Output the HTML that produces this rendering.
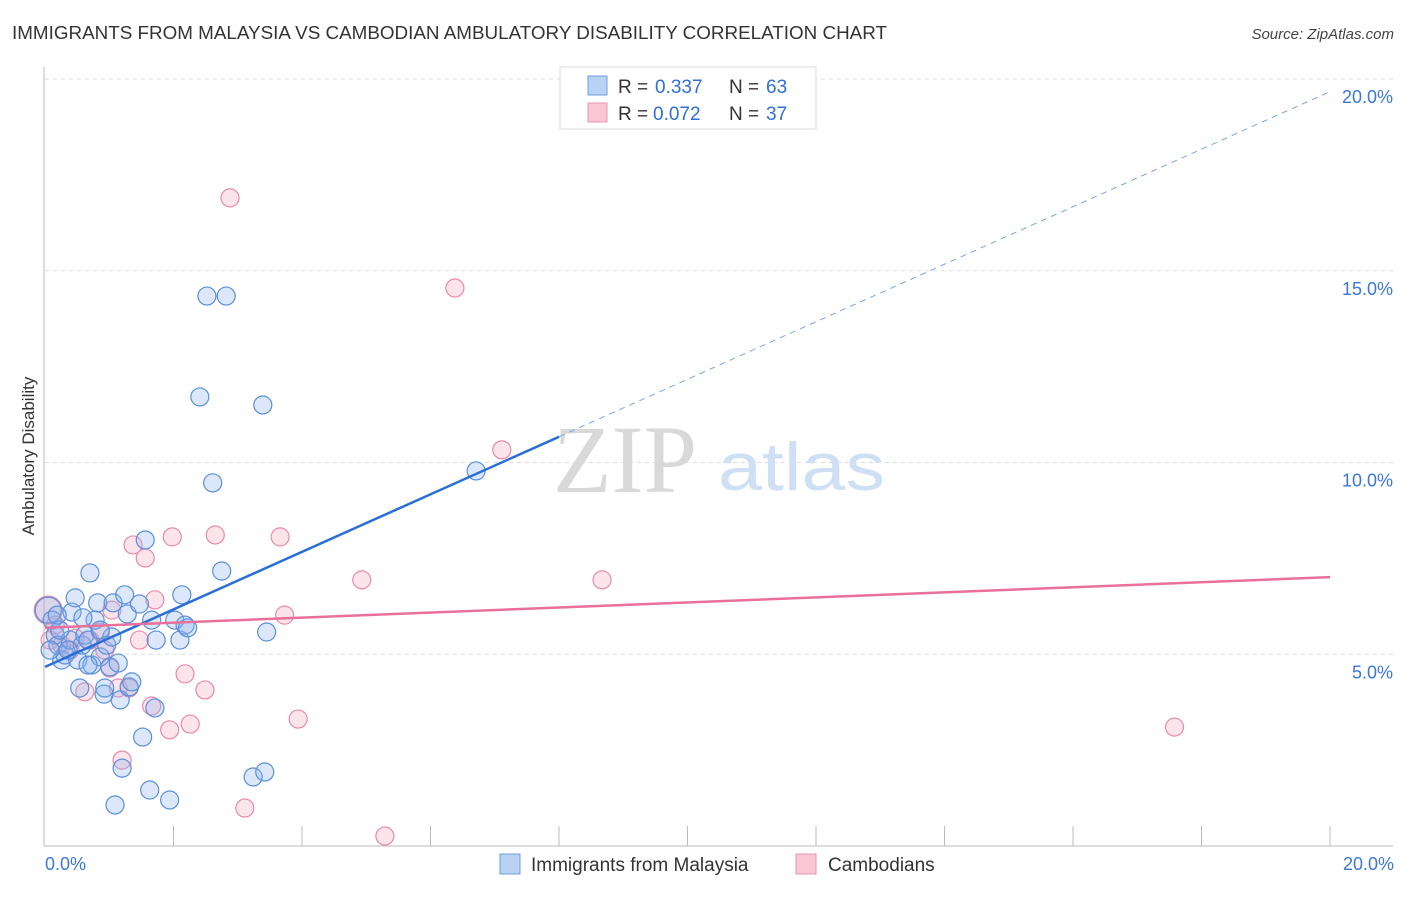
<!DOCTYPE html>
<html><head><meta charset="utf-8"><style>
body{margin:0;background:#fff;font-family:"Liberation Sans",sans-serif}
</style></head><body>
<svg width="1406" height="892" xmlns="http://www.w3.org/2000/svg" font-family="Liberation Sans, sans-serif">
<text x="12" y="39" font-size="18" fill="#333" textLength="875" lengthAdjust="spacingAndGlyphs">IMMIGRANTS FROM MALAYSIA VS CAMBODIAN AMBULATORY DISABILITY CORRELATION CHART</text>
<text x="1394" y="39" font-size="15" fill="#444" text-anchor="end" font-style="italic">Source: ZipAtlas.com</text>
<g id="grid"></g>
<text x="553" y="492" font-size="96" fill="#d9d9d9" font-family="Liberation Serif, serif">ZIP</text>
<text x="718" y="490" font-size="68" fill="#cfdff4" textLength="167" lengthAdjust="spacingAndGlyphs">atlas</text>
<g id="marks"></g>
<text transform="translate(34,456) rotate(-90)" font-size="17" fill="#333" text-anchor="middle">Ambulatory Disability</text>
<g>
<rect x="560" y="67" width="256" height="62" fill="#fff" stroke="#ddd"/>
<rect x="588" y="76" width="19" height="19" fill="#b9d1f3" stroke="#6e9fe0"/>
<rect x="588" y="103" width="19" height="19" fill="#f9c6d6" stroke="#ea95b2"/>
<text x="618" y="93" font-size="19" fill="#333">R =</text>
<text x="655" y="93" font-size="19" fill="#2f6fd6">0.337</text>
<text x="729" y="93" font-size="19" fill="#333">N =</text>
<text x="766" y="93" font-size="19" fill="#2f6fd6">63</text>
<text x="618" y="120" font-size="19" fill="#333">R =</text>
<text x="653" y="120" font-size="19" fill="#2f6fd6">0.072</text>
<text x="729" y="120" font-size="19" fill="#333">N =</text>
<text x="766" y="120" font-size="19" fill="#2f6fd6">37</text>
</g>
<g>
<rect x="500" y="854" width="20" height="20" fill="#b9d1f3" stroke="#6e9fe0"/>
<text x="531" y="871" font-size="19" fill="#333">Immigrants from Malaysia</text>
<rect x="796" y="854" width="20" height="20" fill="#f9c6d6" stroke="#ea95b2"/>
<text x="828" y="871" font-size="19" fill="#333">Cambodians</text>
</g>
</svg>
<script>
const yTicks=[5,10,15,20];
const yTickLabels=["5.0%","10.0%","15.0%","20.0%"];
const xTickLabels=["0.0%","20.0%"];
const blueX=[0.05,0.11,0.16,0.2,0.26,0.31,0.39,0.42,0.47,0.51,0.54,0.58,0.62,0.67,0.7,0.73,0.78,0.82,0.86,0.92,0.93,0.96,1.01,1.06,1.09,1.14,1.17,1.2,1.24,1.28,1.31,1.35,1.47,1.52,1.56,1.63,1.66,1.71,1.73,1.94,2.02,2.1,2.13,2.18,2.22,2.41,2.52,2.61,2.75,2.82,3.24,3.39,3.42,3.45,6.71,0.23,0.36,0.08,0.67,1.04,0.86,0.59,0.19];
const blueY=[6.15,5.89,5.5,5.24,4.85,4.98,5.37,6.1,6.47,4.85,4.12,5.24,5.5,5.37,7.12,4.72,5.89,6.34,4.93,3.96,4.12,5.24,4.67,6.34,1.07,4.77,3.81,2.03,6.55,6.05,4.15,4.28,6.31,2.84,7.98,1.46,5.89,3.6,5.37,1.2,5.89,5.37,6.55,5.76,5.69,11.71,14.34,9.47,7.17,14.34,1.8,11.5,1.93,5.58,9.78,5.63,5.11,5.11,4.72,5.45,5.63,5.95,6.02];
const pinkX=[0.05,0.08,0.16,0.26,0.39,0.47,0.62,0.7,0.86,0.93,1.01,1.04,1.14,1.2,1.31,1.37,1.47,1.56,1.66,1.71,1.94,1.98,2.18,2.26,2.49,2.65,2.88,3.11,3.66,3.73,3.94,4.93,5.29,6.38,7.11,8.67,17.58];
const pinkY=[6.15,5.37,5.76,5.24,5.11,5.42,4.02,5.37,5.58,5.11,4.64,6.15,4.12,2.24,4.12,7.85,5.37,7.51,3.65,6.42,3.03,8.06,4.49,3.18,4.07,8.11,16.9,0.99,8.06,6.02,3.31,6.94,0.26,14.55,10.33,6.94,3.1];
const blueTrend=[4.67,0.75];
const pinkTrend=[5.69,0.066];
const X0=45,X1=1330,Y0=846,PXY=38.35;
const sx=v=>X0+(X1-X0)*v/20, sy=v=>Y0-v*PXY;
const NS='http://www.w3.org/2000/svg';
function mk(tag,attrs,parent){const e=document.createElementNS(NS,tag);for(const k in attrs)e.setAttribute(k,attrs[k]);parent.appendChild(e);return e;}
const grid=document.getElementById('grid'), marks=document.getElementById('marks');
let a=mk('line',{x1:44,y1:67,x2:44,y2:846,stroke:'#bbb'},grid);


a=mk('line',{x1:44,y1:846,x2:1393,y2:846,stroke:'#bbb'},grid);


yTicks.forEach((t,i)=>{
 const g=mk('line',{x1:45,x2:1393,y1:sy(t),y2:sy(t),stroke:'#ddd','stroke-dasharray':'4,4'},grid);
 
 
 const l=mk('text',{x:1393,y:sy(t)+24,'font-size':18,fill:'#3b78d8','text-anchor':'end'},grid);
 l.textContent=yTickLabels[i];
 
 
});
for(let i=1;i<=10;i++){
 const x=sx(i*2);
 const t=mk('line',{x1:x,x2:x,y1:826,y2:846,stroke:'#bbb'},grid);
 
 
}
[[0,'start',45],[1,'end',1394]].forEach(([i,anc,x])=>{
 const l=mk('text',{x:x,y:870,'font-size':18,fill:'#3b78d8','text-anchor':anc},grid);
 l.textContent=xTickLabels[i];
 
 
});
pinkX.forEach((v,i)=>{
 const c=mk('circle',{cx:sx(v),cy:sy(pinkY[i]),r:i==0?14:9,fill:'rgba(245,165,190,0.3)',stroke:'#e98aaa','stroke-width':1.2},marks);
 
 
});
blueX.forEach((v,i)=>{
 const c=mk('circle',{cx:sx(v),cy:sy(blueY[i]),r:i==0?13:9,fill:'rgba(140,180,235,0.3)',stroke:'#5a8fdc','stroke-width':1.2},marks);
 
 
});
const bEnd=8;
let l=mk('line',{x1:sx(0),y1:sy(blueTrend[0]),x2:sx(bEnd),y2:sy(blueTrend[0]+blueTrend[1]*bEnd),stroke:'#2a6fd6','stroke-width':2.5},marks);


l=mk('line',{x1:sx(bEnd),y1:sy(blueTrend[0]+blueTrend[1]*bEnd),x2:sx(20),y2:sy(blueTrend[0]+blueTrend[1]*20),stroke:'#7aa5e0','stroke-width':1,'stroke-dasharray':'6,5'},marks);


l=mk('line',{x1:sx(0),y1:sy(pinkTrend[0]),x2:sx(20),y2:sy(pinkTrend[0]+pinkTrend[1]*20),stroke:'#e8709a','stroke-width':2.5},marks);


</script>
</body></html>
